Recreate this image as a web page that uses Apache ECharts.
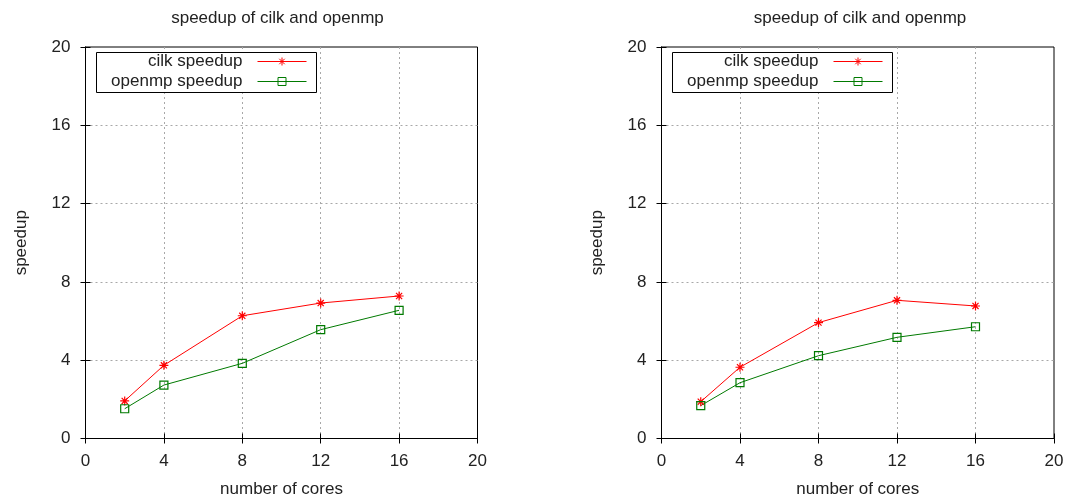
<!DOCTYPE html>
<html><head><meta charset="utf-8">
<script src="https://cdn.jsdelivr.net/npm/echarts@6/dist/echarts.min.js"></script>
<style>html,body{margin:0;padding:0;background:#fff}#c{width:1070px;height:502px}</style>
</head><body><div id="c"></div>
<script>
const cores = [2, 4, 8, 12, 16];
const cilkLeft = [1.92, 3.74, 6.27, 6.92, 7.28];
const ompLeft = [1.52, 2.73, 3.84, 5.56, 6.55];
const cilkRight = [1.88, 3.64, 5.92, 7.06, 6.77];
const ompRight = [1.68, 2.85, 4.23, 5.17, 5.71];
const titleText = 'speedup of cilk and openmp';
const xName = 'number of cores';
const yName = 'speedup';
const names = ['cilk speedup', 'openmp speedup'];

const FONT = 'Liberation Sans';
const FS = 17;
const TXT = '#222';
const star = 'path://M0,5L10,5M5,0L5,10M1.6,1.6L8.4,8.4M1.6,8.4L8.4,1.6';

const chart = echarts.init(document.getElementById('c'));
const grids = [
  {left: 85.5, right: 592.5, top: 47, bottom: 63.5, show: true, borderColor: '#000', borderWidth: 1, containLabel: false, outerBoundsMode: 'none'},
  {left: 661.5, right: 16, top: 47, bottom: 63.5, show: true, borderColor: '#000', borderWidth: 1, containLabel: false, outerBoundsMode: 'none'}
];
const xAxes = [], yAxes = [], series = [], titles = [], legends = [], graphics = [];
const sets = [[cilkLeft, ompLeft], [cilkRight, ompRight]];
const offs = [0, 576];
const split = {show: true, showMinLine: false, showMaxLine: false, lineStyle: {color: '#a8a8a8', type: [2, 3], width: 1}};
grids.forEach((g, i) => {
  const base = {min: 0, max: 20, interval: 4, type: 'value', gridIndex: i};
  xAxes.push(Object.assign({}, base, {
    position: 'bottom', name: xName, nameLocation: 'middle', nameGap: 42,
    nameTextStyle: {fontFamily: FONT, fontSize: FS, color: TXT},
    axisLine: {show: true, lineStyle: {color: '#000'}},
    axisTick: {show: true, inside: true, length: 5, lineStyle: {color: '#000'}},
    axisLabel: {fontFamily: FONT, fontSize: FS, color: TXT, margin: 14},
    splitLine: split
  }));
  xAxes.push(Object.assign({}, base, {
    position: 'top', axisLine: {show: true, lineStyle: {color: '#000'}},
    axisTick: {show: true, inside: true, length: 5, lineStyle: {color: '#000'}},
    axisLabel: {show: false}, splitLine: {show: false}
  }));
  yAxes.push(Object.assign({}, base, {
    position: 'left', name: yName, nameLocation: 'middle', nameGap: 56, nameRotate: 90,
    nameTextStyle: {fontFamily: FONT, fontSize: FS, color: TXT},
    axisLine: {show: true, lineStyle: {color: '#000'}},
    axisTick: {show: true, inside: true, length: 5, lineStyle: {color: '#000'}},
    axisLabel: {fontFamily: FONT, fontSize: FS, color: TXT, margin: 15},
    splitLine: split
  }));
  yAxes.push(Object.assign({}, base, {
    position: 'right', axisLine: {show: true, lineStyle: {color: '#000'}},
    axisTick: {show: true, inside: true, length: 5, lineStyle: {color: '#000'}},
    axisLabel: {show: false}, splitLine: {show: false}
  }));
  const cx = i === 0 ? 272.5 : 855;
  titles.push({text: titleText, left: cx, top: 5, textAlign: 'center',
    textStyle: {fontFamily: FONT, fontSize: FS, fontWeight: 'normal', color: TXT}});
  series.push({
    name: names[0], type: 'line', xAxisIndex: i * 2, yAxisIndex: i * 2,
    data: cores.map((c, k) => [c, sets[i][0][k]]),
    symbol: star, symbolSize: 9, showAllSymbol: true,
    lineStyle: {color: '#ff0000', width: 1},
    itemStyle: {color: '#ff0000', borderColor: '#ff0000', borderWidth: 1.2},
    animation: false
  });
  series.push({
    name: names[1], type: 'line', xAxisIndex: i * 2, yAxisIndex: i * 2,
    data: cores.map((c, k) => [c, sets[i][1][k]]),
    symbol: 'rect', symbolSize: 8, showAllSymbol: true,
    lineStyle: {color: '#007a00', width: 1},
    itemStyle: {color: 'rgba(255,255,255,0)', borderColor: '#007a00', borderWidth: 1.2},
    animation: false
  });
  const o = offs[i];
  graphics.push({type: 'rect', z: 10, shape: {x: 96.5 + o, y: 52.5, width: 220, height: 40},
    style: {fill: '#fff', stroke: '#000', lineWidth: 1}});
  names.forEach((n, k) => {
    legends.push({
      data: [n], orient: 'vertical', right: 1070 - 307 - o, top: 52 + k * 20, z: 20,
      align: 'right', itemWidth: 49, itemHeight: 10, padding: 0,
      selectedMode: false,
      itemStyle: {borderWidth: 1},
      lineStyle: {width: 1},
      textStyle: {fontFamily: FONT, fontSize: FS, color: TXT, padding: [0, 10, 0, 0], lineHeight: 19}
    });
  });
});
chart.setOption({
  animation: false,
  title: titles, grid: grids, xAxis: xAxes, yAxis: yAxes, series: series, legend: legends,
  graphic: graphics
});
</script></body></html>
